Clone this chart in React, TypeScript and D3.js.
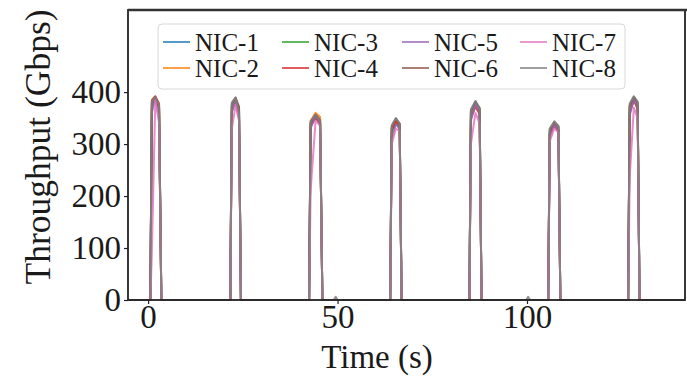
import React, { useEffect } from "react";
import * as d3 from "d3";

// sample times (s), shared by every NIC
const times = [
  -5,
  0.6, 1.0, 1.9, 2.9, 3.5,
  21.7, 22.1, 23.1, 24.0, 24.5,
  42.5, 42.9, 44.2, 45.4, 46.0,
  49.0, 49.5, 50.0,
  63.9, 64.3, 65.4, 66.4, 66.9,
  84.8, 85.2, 86.4, 87.5, 88.0,
  99.8, 100.3, 100.8,
  105.6, 106.0, 107.2, 108.3, 108.8,
  126.7, 127.1, 128.2, 129.2, 129.7,
  141.7,
];

// throughput (Gbps) per NIC
const nic1 = [0, 0, 380, 388, 372, 0, 0, 375, 386, 370, 0, 0, 340, 355, 345, 0, 0, 0, 0, 0, 330, 345, 338, 0, 0, 360, 378, 365, 0, 0, 0, 0, 0, 325, 340, 332, 0, 0, 370, 388, 375, 0, 0];
const nic2 = [0, 0, 375, 390, 365, 0, 0, 370, 383, 360, 0, 0, 345, 360, 352, 0, 0, 0, 0, 0, 325, 342, 335, 0, 0, 355, 375, 360, 0, 0, 0, 0, 0, 320, 338, 328, 0, 0, 365, 385, 370, 0, 0];
const nic3 = [0, 0, 370, 386, 360, 0, 0, 372, 388, 366, 0, 0, 338, 352, 340, 0, 0, 0, 0, 0, 320, 340, 330, 0, 0, 362, 380, 368, 0, 0, 0, 0, 0, 322, 336, 326, 0, 0, 372, 390, 378, 0, 0];
const nic4 = [0, 0, 385, 392, 378, 0, 0, 365, 380, 350, 0, 0, 335, 350, 338, 0, 0, 0, 0, 0, 328, 344, 334, 0, 0, 350, 372, 358, 0, 0, 0, 0, 0, 318, 335, 324, 0, 0, 360, 384, 368, 0, 0];
const nic5 = [0, 0, 360, 389, 350, 0, 0, 360, 384, 355, 0, 0, 330, 354, 342, 0, 0, 0, 0, 0, 310, 338, 330, 0, 0, 345, 376, 362, 0, 0, 0, 0, 0, 310, 337, 328, 0, 0, 355, 386, 372, 0, 0];
const nic6 = [0, 0, 378, 391, 370, 0, 0, 378, 389, 372, 0, 0, 342, 357, 346, 0, 0, 0, 0, 0, 335, 349, 340, 0, 0, 365, 382, 370, 0, 0, 0, 0, 0, 328, 342, 334, 0, 0, 375, 391, 380, 0, 0];
const nic7 = [0, 0, 90, 385, 340, 0, 0, 330, 375, 345, 0, 0, 210, 345, 335, 0, 0, 0, 0, 0, 300, 330, 325, 0, 0, 300, 360, 340, 0, 0, 0, 0, 0, 305, 330, 322, 0, 0, 235, 370, 350, 0, 0];
const nic8 = [0, 0, 382, 390, 375, 0, 0, 380, 390, 360, 0, 0, 344, 356, 344, 0, 0, 6, 0, 0, 336, 350, 338, 0, 0, 366, 383, 368, 0, 0, 6, 0, 0, 330, 344, 335, 0, 0, 378, 392, 382, 0, 0];

const nicNames = ["NIC-1", "NIC-2", "NIC-3", "NIC-4", "NIC-5", "NIC-6", "NIC-7", "NIC-8"];
const nicColors = ["#1f77b4", "#ff7f0e", "#2ca02c", "#d62728", "#9467bd", "#8c564b", "#e377c2", "#7f7f7f"];
const xTicks = [0, 50, 100];
const yTicks = [0, 100, 200, 300, 400];

const FONT = "'Liberation Serif', 'Times New Roman', serif";

const App: React.FC = () => {
  useEffect(() => {
    d3.select("#viz_container").select("svg").remove();

    const W = 687;
    const H = 377;
    const plot = { left: 128, top: 10, right: 685, bottom: 300 };

    const svg = d3
      .select("#viz_container")
      .append("svg")
      .attr("width", W)
      .attr("height", H)
      .style("position", "absolute")
      .style("left", "0px")
      .style("top", "0px")
      .style("background", "#fff");

    const x = d3.scaleLinear().domain([-5.3, 141.7]).range([plot.left, plot.right]);
    const y = d3.scaleLinear().domain([0, 558]).range([plot.bottom, plot.top]);

    // lines
    const series = [nic1, nic2, nic3, nic4, nic5, nic6, nic7, nic8];
    const line = d3
      .line<number>()
      .x((_, i) => x(times[i]))
      .y((d) => y(d));

    svg
      .append("g")
      .selectAll("path")
      .data(series)
      .join("path")
      .attr("d", (d) => line(d))
      .attr("fill", "none")
      .attr("stroke", (_, i) => nicColors[i])
      .attr("stroke-width", 2)
      .attr("stroke-opacity", 0.85)
      .attr("stroke-linejoin", "round");

    // axes
    const xAxis = svg
      .append("g")
      .attr("transform", `translate(0,${plot.bottom})`)
      .call(d3.axisBottom(x).tickValues(xTicks).tickSize(4).tickPadding(1));
    const yAxis = svg
      .append("g")
      .attr("transform", `translate(${plot.left},0)`)
      .call(d3.axisLeft(y).tickValues(yTicks).tickSize(4).tickPadding(3));

    [xAxis, yAxis].forEach((g) => {
      g.select(".domain").remove();
      g.selectAll("line").attr("stroke", "#222").attr("stroke-width", 1.2);
      g.selectAll("text")
        .attr("font-family", FONT)
        .attr("font-size", 33)
        .attr("fill", "#1a1a1a");
    });

    // spines
    svg
      .append("rect")
      .attr("x", plot.left)
      .attr("y", plot.top)
      .attr("width", plot.right - plot.left)
      .attr("height", plot.bottom - plot.top)
      .attr("fill", "none")
      .attr("stroke", "#222")
      .attr("stroke-width", 1.8);
    svg
      .append("line")
      .attr("x1", plot.left)
      .attr("x2", W)
      .attr("y1", plot.top)
      .attr("y2", plot.top)
      .attr("stroke", "#333")
      .attr("stroke-width", 2.6);

    // axis labels
    svg
      .append("text")
      .attr("x", 377)
      .attr("y", 368)
      .attr("text-anchor", "middle")
      .attr("font-family", FONT)
      .attr("font-size", 33)
      .attr("fill", "#1a1a1a")
      .text("Time (s)");

    svg
      .append("text")
      .attr("transform", "translate(50,147) rotate(-90)")
      .attr("text-anchor", "middle")
      .attr("font-family", FONT)
      .attr("font-size", 35.5)
      .attr("fill", "#1a1a1a")
      .text("Throughput (Gbps)");

    // legend
    const legend = svg.append("g");
    legend
      .append("rect")
      .attr("x", 158)
      .attr("y", 24)
      .attr("width", 467)
      .attr("height", 65)
      .attr("rx", 4)
      .attr("fill", "#fff")
      .attr("fill-opacity", 0.8)
      .attr("stroke", "#d8d8d8");

    const colX = [163, 282, 402, 520];
    const rowY = [42, 68];
    nicNames.forEach((name, i) => {
      const cx = colX[Math.floor(i / 2)];
      const cy = rowY[i % 2];
      legend
        .append("line")
        .attr("x1", cx)
        .attr("x2", cx + 27)
        .attr("y1", cy)
        .attr("y2", cy)
        .attr("stroke", nicColors[i])
        .attr("stroke-width", 2)
        .attr("stroke-opacity", 0.75);
      legend
        .append("text")
        .attr("x", cx + 32)
        .attr("y", cy)
        .attr("dy", "0.34em")
        .attr("font-family", FONT)
        .attr("font-size", 25)
        .attr("fill", "#1a1a1a")
        .text(name);
    });
  }, []);

  return <div id="viz_container" />;
};

export default App;
